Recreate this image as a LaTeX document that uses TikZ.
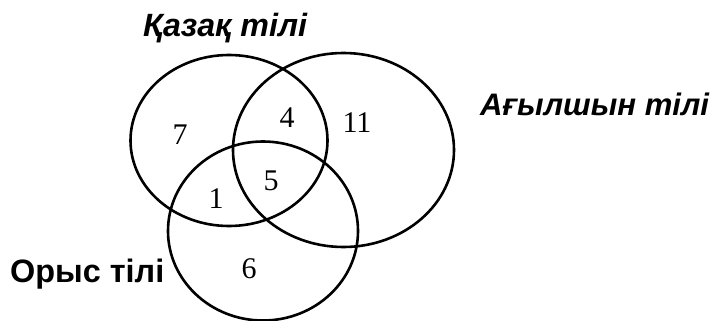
\documentclass[tikz,border=0pt]{standalone}
\usepackage{fontspec}
\setmainfont{Liberation Serif}
\setsansfont{Liberation Sans}
\begin{document}
\begin{tikzpicture}[x=1pt,y=-1pt,
  set/.style={draw=black,line width=2.6pt},
  num/.style={font=\fontsize{30}{30}\selectfont\rmfamily,inner sep=0pt},
  lbl/.style={inner sep=0pt,anchor=base west}]
\useasboundingbox (0,0) rectangle (718,321);
\draw[set] (229,140.5) ellipse [x radius=98.5, y radius=85.5];
\draw[set] (343.5,150) ellipse [x radius=110.5, y radius=97];
\draw[set] (263,231) ellipse [x radius=95, y radius=89.5];
\node[num] (n7) at (180,135) {7};
\node[num] (n4) at (287,118) {4};
\node[num] (n11) at (357,123) {11};
\node[num] (n5) at (271,181) {5};
\node[num] (n1) at (216,199) {1};
\node[num] (n6) at (249,269) {6};
\node[lbl,font=\fontsize{32.2}{32}\selectfont\sffamily\bfseries\itshape] (kz) at (143,37) {Қазақ тілі};
\node[lbl,font=\fontsize{31.1}{31}\selectfont\sffamily\bfseries\itshape] (en) at (480,115) {Ағылшын тілі};
\node[lbl,font=\fontsize{32.4}{32}\selectfont\sffamily\bfseries] (ru) at (10,282) {Орыс тілі};
\end{tikzpicture}
\end{document}
